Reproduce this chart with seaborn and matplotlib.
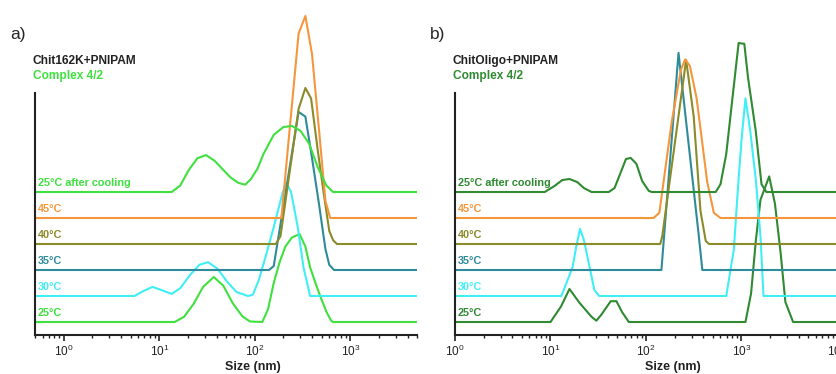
import numpy as np
import seaborn as sns
import matplotlib.pyplot as plt
import matplotlib.transforms as mtransforms
from matplotlib.ticker import LogLocator, NullFormatter

sns.set_style("white")
plt.rcParams['font.family'] = ['Liberation Sans', 'DejaVu Sans']
plt.rcParams['mathtext.fontset'] = 'custom'
plt.rcParams['mathtext.rm'] = 'Liberation Sans'

# ---- data: size (nm) and intensity ----
temps = ['25°C', '30°C', '35°C', '40°C', '45°C', '25°C after cooling']

# panel a) Chit162K+PNIPAM
a_25_size = [14.5, 18.2, 22.9, 28.8, 37.2, 46.8, 58.9, 74.1, 89.1, 120, 138, 158, 182, 209, 245, 295, 339, 380, 437, 490, 562, 631, 661]
a_25_int = [0, 0.2, 0.7, 1.35, 1.73, 1.4, 0.72, 0.22, 0.02, 0, 0.5, 1.5, 2.3, 2.9, 3.25, 3.38, 2.9, 2.1, 1.45, 0.95, 0.4, 0.05, 0]
a_30_size = [5.5, 6.9, 8.5, 10.7, 13.5, 16.6, 20.9, 26.3, 32.4, 40.7, 51.3, 64.6, 85.1, 95.5, 110, 132, 158, 195, 214, 240, 282, 324, 380]
a_30_int = [0, 0.2, 0.35, 0.22, 0.08, 0.3, 0.8, 1.2, 1.3, 1.05, 0.55, 0.15, 0, 0.05, 0.6, 1.6, 2.65, 3.95, 4.35, 4.0, 2.65, 1.1, 0]
a_35_size = [141, 158, 288, 339, 398, 468, 550, 603, 676]
a_35_int = [0, 0.15, 6.08, 5.9, 4.3, 2.6, 0.8, 0.2, 0]
a_40_size = [166, 186, 288, 339, 389, 457, 525, 603, 661, 724]
a_40_int = [0, 0.3, 5.2, 6.0, 5.6, 3.6, 2.0, 0.5, 0.15, 0]
a_45_size = [190, 288, 339, 398, 468, 550, 617]
a_45_int = [0, 7.1, 7.77, 6.3, 3.5, 0.65, 0]
a_ac_size = [13.5, 16.6, 20.4, 25.1, 30.9, 38.0, 46.8, 56.2, 67.6, 79.4, 91.2, 107, 123, 158, 200, 245, 302, 372, 457, 562, 661]
a_ac_int = [0, 0.25, 0.85, 1.3, 1.42, 1.2, 0.85, 0.55, 0.35, 0.28, 0.5, 0.9, 1.45, 2.2, 2.5, 2.54, 2.35, 1.85, 0.95, 0.25, 0]

# panel b) ChitOligo+PNIPAM
b_25_size = [10, 12.9, 15.8, 20, 26.9, 30.2, 33.9, 42.7, 49, 56.2, 66.1, 1100, 1260, 1410, 1580, 1950, 2240, 2570, 2880, 3470]
b_25_int = [0, 0.6, 1.27, 0.75, 0.2, 0.05, 0.27, 0.8, 0.8, 0.38, 0, 0, 1.1, 3.1, 4.7, 5.6, 4.55, 2.65, 0.77, 0]
b_30_size = [13, 17, 18.6, 20.4, 22.4, 25.7, 28.8, 32.4, 692, 832, 912, 1000, 1100, 1230, 1410, 1580, 1700]
b_30_int = [0, 1.1, 1.9, 2.58, 2.15, 1.1, 0.23, 0, 0, 1.8, 4.0, 6.0, 7.6, 6.4, 4.5, 2.3, 0]
b_35_size = [145, 219, 355, 389]
b_35_int = [0, 8.35, 1.4, 0]
b_40_size = [141, 148, 263, 316, 372, 422, 457]
b_40_int = [0, 0.3, 7.08, 4.9, 1.27, 0.12, 0]
b_45_size = [120, 138, 186, 232, 257, 288, 339, 437, 513, 603]
b_45_int = [0, 0.2, 3.7, 5.7, 6.1, 5.85, 4.6, 1.4, 0.2, 0]
b_ac_size = [8.7, 11, 13.3, 15.8, 19.1, 22.4, 26.9, 40.7, 46.8, 55, 61.7, 69.2, 79.4, 91.2, 107, 115,
             537, 603, 692, 832, 933, 1070, 1170, 1410, 1620, 1820]
b_ac_int = [0, 0.23, 0.46, 0.5, 0.38, 0.15, 0, 0, 0.15, 0.8, 1.27, 1.31, 1.08, 0.42, 0.04, 0,
            0, 0.3, 1.46, 4.1, 5.73, 5.7, 4.4, 2.35, 0.3, 0]

green_a = '#3fe03f'
green_b = '#2f8a31'
cyan = '#40eef5'
teal = '#2e8b9a'
olive = '#8b8b2a'
orange = '#f5963c'

panels = [
    dict(label='a)', title='Chit162K+PNIPAM', green=green_a, xlim=(0.5, 5000),
         curves=[(a_25_size, a_25_int), (a_30_size, a_30_int), (a_35_size, a_35_int),
                 (a_40_size, a_40_int), (a_45_size, a_45_int), (a_ac_size, a_ac_int)]),
    dict(label='b)', title='ChitOligo+PNIPAM', green=green_b, xlim=(1, 10000),
         curves=[(b_25_size, b_25_int), (b_30_size, b_30_int), (b_35_size, b_35_int),
                 (b_40_size, b_40_int), (b_45_size, b_45_int), (b_ac_size, b_ac_int)]),
]

W, H = 837, 374
fig = plt.figure(figsize=(W / 100, H / 100), dpi=100)
lefts = [35, 455]

for p, left in zip(panels, lefts):
    ax = fig.add_axes([left / W, 39 / H, 382 / W, 325 / H])
    colors = [p['green'], cyan, teal, olive, orange, p['green']]
    x0, x1 = p['xlim']
    for i, ((sz, iv), col) in enumerate(zip(p['curves'], colors)):
        xs = [x0] + list(sz) + [x1]
        ys = np.array([0] + list(iv) + [0]) + i
        sns.lineplot(x=xs, y=ys, ax=ax, color=col, lw=1.5, sort=False)
    ax.set_xscale('log')
    ax.set_xlim(x0, x1)
    ax.set_ylim(-0.5, 12.0)

    # curve labels
    trans = mtransforms.blended_transform_factory(ax.transAxes, ax.transData)
    for i, (t, col) in enumerate(zip(temps, colors)):
        ax.text(0.008, i + 0.17, t, transform=trans, color=col, fontsize=7.8,
                fontweight='bold', va='bottom', ha='left')

    for s in ['top', 'right']:
        ax.spines[s].set_visible(False)
    ax.spines['left'].set_bounds(-0.5, 8.8)
    for s in ['left', 'bottom']:
        ax.spines[s].set_linewidth(1.5)
        ax.spines[s].set_color('#222222')
    ax.set_yticks([])
    ax.xaxis.set_major_locator(LogLocator(base=10, numticks=10))
    ax.xaxis.set_minor_locator(LogLocator(base=10, subs=np.arange(2, 10), numticks=20))
    ax.xaxis.set_minor_formatter(NullFormatter())
    ax.tick_params(axis='x', which='major', direction='out', length=4, width=1.2,
                   labelsize=8.5, pad=2, colors='#222222', bottom=True)
    ax.tick_params(axis='x', which='minor', direction='out', length=2.5, width=1,
                   colors='#222222', bottom=True)
    ax.set_xlabel('Size (nm)', fontsize=9, fontweight='bold', color='#222222')
    ax.xaxis.set_label_coords(0.57, -0.08)
    ax.set_ylabel('')

    fig.text((left - 25) / W, 1 - 35 / H, p['label'], fontsize=12.5, va='center', ha='left')
    fig.text((left - 2) / W, 1 - 61 / H, p['title'], fontsize=8.6, fontweight='bold',
             color='#222222', va='center', ha='left')
    fig.text((left - 2) / W, 1 - 76 / H, 'Complex 4/2', fontsize=8.6, fontweight='bold',
             color=p['green'], va='center', ha='left')

fig.savefig('out.png', dpi=100)
